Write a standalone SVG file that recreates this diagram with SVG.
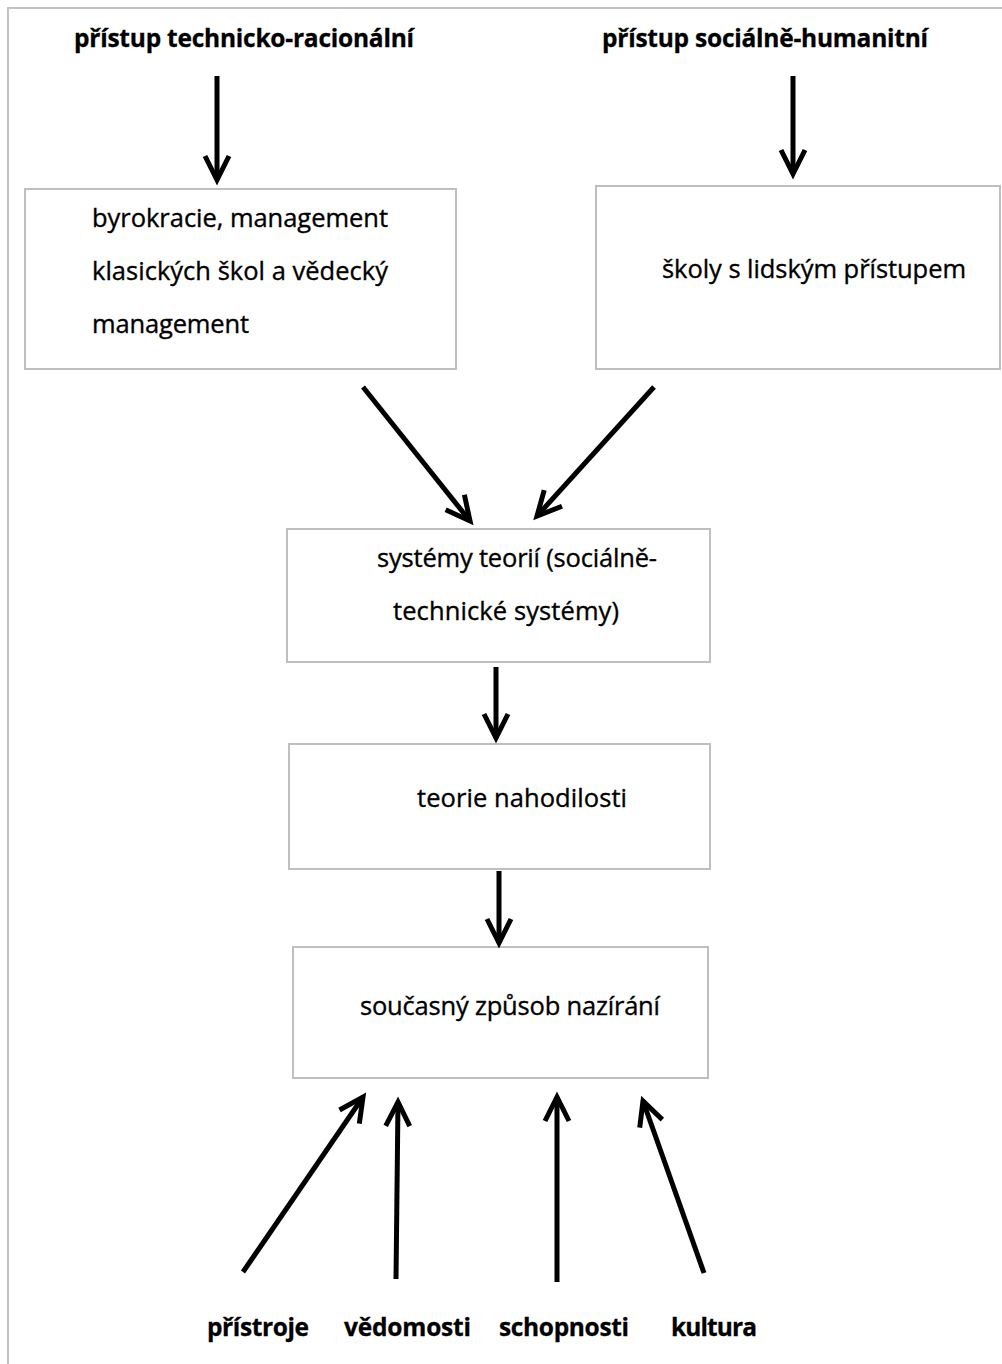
<svg xmlns="http://www.w3.org/2000/svg" width="1002" height="1364" viewBox="0 0 1002 1364">
<defs>
<style>
.frame{fill:none;stroke:#c3c3c3;stroke-width:2}
.box{fill:#ffffff;stroke:#bfbfbf;stroke-width:2}
.t{font-family:"Open Sans","Noto Sans",sans-serif;font-size:25.5px;fill:#000;stroke:#000;stroke-width:0.35px}
.b{font-family:"Open Sans","Noto Sans",sans-serif;font-size:24.5px;font-weight:bold;fill:#000;stroke:#000;stroke-width:0.3px}
.arr{fill:none;stroke:#000;stroke-width:5;marker-end:url(#ah)}
</style>
<marker id="ah" markerUnits="userSpaceOnUse" viewBox="-30 -20 40 40" refX="0" refY="0" markerWidth="40" markerHeight="40" orient="auto" overflow="visible">
<path d="M-24,-12 L0,0 L-24,12" fill="none" stroke="#000" stroke-width="5" stroke-linejoin="miter"/>
</marker>
</defs>
<rect width="1002" height="1364" fill="#ffffff"/>
<path class="frame" d="M8,1364 L8,8 L1002,8"/>
<g id="title-left"><text class="b" x="74" y="47" textLength="340">přístup technicko-racionální</text></g>
<g id="title-right"><text class="b" x="602" y="47" textLength="326">přístup sociálně-humanitní</text></g>
<g id="node-byrokracie">
<rect class="box" x="25" y="189" width="431" height="180"/>
<text class="t" x="92" y="227" textLength="296">byrokracie, management</text>
<text class="t" x="92" y="280" textLength="296">klasických škol a vědecký</text>
<text class="t" x="92" y="333" textLength="157">management</text>
</g>
<g id="node-skoly">
<rect class="box" x="596" y="186" width="404" height="183"/>
<text class="t" x="662" y="278" textLength="304">školy s lidským přístupem</text>
</g>
<g id="node-systemy">
<rect class="box" x="287" y="529" width="423" height="133"/>
<text class="t" x="377" y="567" textLength="280">systémy teorií (sociálně-</text>
<text class="t" x="393" y="620" textLength="226">technické systémy)</text>
</g>
<g id="node-nahodilost">
<rect class="box" x="289" y="744" width="421" height="125"/>
<text class="t" x="417" y="807" textLength="210">teorie nahodilosti</text>
</g>
<g id="node-soucasny">
<rect class="box" x="293" y="947" width="415" height="131"/>
<text class="t" x="360" y="1015" textLength="300">současný způsob nazírání</text>
</g>
<g id="label-pristroje"><text class="b" x="207" y="1336" textLength="102">přístroje</text></g>
<g id="label-vedomosti"><text class="b" x="344" y="1336" textLength="127">vědomosti</text></g>
<g id="label-schopnosti"><text class="b" x="499" y="1336" textLength="130">schopnosti</text></g>
<g id="label-kultura"><text class="b" x="671" y="1336" textLength="86">kultura</text></g>
<g id="connectors">
<line class="arr" x1="217" y1="76" x2="217" y2="180"/>
<line class="arr" x1="793" y1="76" x2="793" y2="174"/>
<line class="arr" x1="363" y1="387" x2="470" y2="521"/>
<line class="arr" x1="654" y1="387" x2="537" y2="516"/>
<line class="arr" x1="496" y1="667" x2="496" y2="738"/>
<line class="arr" x1="499" y1="871" x2="499" y2="943"/>
<line class="arr" x1="243" y1="1272" x2="363" y2="1097"/>
<line class="arr" x1="396" y1="1279" x2="398" y2="1102"/>
<line class="arr" x1="557" y1="1282" x2="557" y2="1097"/>
<line class="arr" x1="704" y1="1273" x2="643" y2="1101"/>
</g>
</svg>
